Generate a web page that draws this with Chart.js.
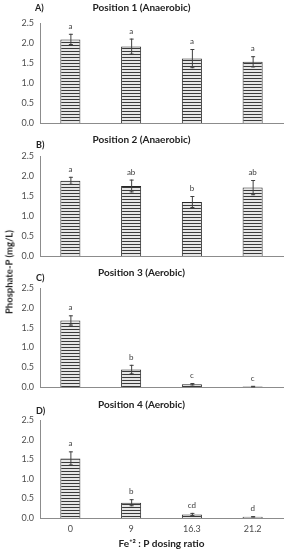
<!DOCTYPE html>
<html>
<head>
<meta charset="utf-8">
<script src="https://cdn.jsdelivr.net/npm/chart.js@4"></script>
<style>
  html, body { margin: 0; padding: 0; background: #fff; }
  #wrap { position: relative; width: 286px; height: 550px; overflow: hidden; font-family: Lato, 'Open Sans', sans-serif; }
  .panel { position: absolute; left: 0; width: 286px; }
  .tag { position: absolute; font-weight: bold; font-size: 9px; color: #222; }
  #ytitle { position: absolute; left: 9px; top: 272px; transform: translate(-50%, -50%) rotate(-90deg);
            white-space: nowrap; font-weight: bold; font-size: 9.5px; color: #222; }
</style>
</head>
<body>
<div id="wrap">
  <div class="panel" style="top:0;height:135px"><canvas id="c1"></canvas></div>
  <div class="panel" style="top:130px;height:138px"><canvas id="c2"></canvas></div>
  <div class="panel" style="top:260px;height:139px"><canvas id="c3"></canvas></div>
  <div class="panel" style="top:390px;height:160px"><canvas id="c4"></canvas></div>
  <div class="tag" style="left:35px;top:2px">A)</div>
  <div class="tag" style="left:36px;top:139px">B)</div>
  <div class="tag" style="left:36px;top:272px">C)</div>
  <div class="tag" style="left:36px;top:405px">D)</div>
  <div id="ytitle">Phosphate-P (mg/L)</div>
</div>
<script>
'use strict';

// ── Datos ──────────────────────────────────────────────────────────────
const doses = ['0', '9', '16.3', '21.2'];

const pos1Mean = [2.09, 1.91, 1.61, 1.53];
const pos1Err  = [0.14, 0.20, 0.24, 0.14];
const pos1Sig  = ['a', 'a', 'a', 'a'];

const pos2Mean = [1.88, 1.75, 1.35, 1.71];
const pos2Err  = [0.10, 0.16, 0.15, 0.19];
const pos2Sig  = ['a', 'ab', 'b', 'ab'];

const pos3Mean = [1.68, 0.44, 0.07, 0.01];
const pos3Err  = [0.13, 0.12, 0.03, 0.005];
const pos3Sig  = ['a', 'b', 'c', 'c'];

const pos4Mean = [1.52, 0.39, 0.09, 0.03];
const pos4Err  = [0.18, 0.09, 0.04, 0.01];
const pos4Sig  = ['a', 'b', 'cd', 'd'];

const yTicks = [0, 0.5, 1.0, 1.5, 2.0, 2.5];

// ── Estilo ─────────────────────────────────────────────────────────────
const FONT = "Lato, 'Open Sans', sans-serif";
const C = { tick: '#4d4d4d', axis: '#8c8c8c', dark: '#262626', err: '#404040' };

// patrón de rayas horizontales
function stripePattern() {
  const p = document.createElement('canvas');
  p.width = 4; p.height = 3;
  const g = p.getContext('2d');
  g.fillStyle = '#e6e6e6'; g.fillRect(0, 0, 4, 3);
  g.fillStyle = '#3a3a3a'; g.fillRect(0, 0, 4, 1);
  return document.getElementById('c1').getContext('2d').createPattern(p, 'repeat');
}
const STRIPES = stripePattern();

// barras de error + letras de significancia
const errorBars = {
  id: 'errorBars',
  afterDatasetsDraw(chart, args, opts) {
    const { ctx } = chart;
    const y = chart.scales.y;
    const meta = chart.getDatasetMeta(0);
    ctx.save();
    meta.data.forEach((bar, i) => {
      const m = opts.mean[i], e = opts.err[i];
      const yt = y.getPixelForValue(m + e);
      const yb = y.getPixelForValue(Math.max(0, m - e));
      ctx.strokeStyle = C.err;
      ctx.lineWidth = 1;
      ctx.beginPath();
      ctx.moveTo(bar.x + 0.5, yt); ctx.lineTo(bar.x + 0.5, yb);
      ctx.moveTo(bar.x - 1.5, yt + 0.5); ctx.lineTo(bar.x + 2.5, yt + 0.5);
      ctx.moveTo(bar.x - 1.5, yb - 0.5); ctx.lineTo(bar.x + 2.5, yb - 0.5);
      ctx.stroke();
      ctx.fillStyle = C.err;
      ctx.font = '8px ' + FONT;
      ctx.textAlign = 'center';
      ctx.textBaseline = 'alphabetic';
      ctx.fillText(opts.sig[i], bar.x, yt - 5);
    });
    ctx.restore();
  },
};

function makePanel(id, title, mean, err, sig, lay) {
  return new Chart(document.getElementById(id), {
    type: 'bar',
    data: {
      labels: doses,
      datasets: [{
        data: mean,
        backgroundColor: STRIPES,
        borderColor: C.dark,
        borderWidth: 1,
        barPercentage: 0.33,
        categoryPercentage: 1,
      }],
    },
    plugins: [errorBars],
    options: {
      responsive: true,
      maintainAspectRatio: false,
      animation: false,
      layout: { padding: { left: 0, right: 3, top: 0, bottom: 0 } },
      plugins: {
        legend: { display: false },
        tooltip: { enabled: false },
        title: {
          display: true,
          text: title,
          color: '#222',
          font: { family: FONT, size: 10, weight: 'bold', lineHeight: 1.2 },
          padding: { top: lay.tTop, bottom: lay.tBot },
        },
        errorBars: { mean, err, sig },
      },
      scales: {
        x: {
          grid: { display: false, drawTicks: false },
          border: { display: true, color: C.axis, width: 1 },
          ticks: { display: lay.xLabels, color: C.tick, padding: 6, font: { family: FONT, size: 9 } },
          title: {
            display: lay.xLabels,
            text: 'Fe⁺² : P dosing ratio',
            color: '#222',
            padding: { top: 0, bottom: 0 },
            font: { family: FONT, size: 10, weight: 'bold' },
          },
          afterFit: s => { s.height = lay.xH; },
        },
        y: {
          min: 0, max: 2.5,
          afterBuildTicks: s => { s.ticks = yTicks.map(v => ({ value: v })); },
          grid: { display: false, drawTicks: false },
          border: { display: true, color: C.axis, width: 1 },
          ticks: { color: C.tick, padding: 6, font: { family: FONT, size: 9 }, callback: v => v.toFixed(1) },
          afterFit: s => { s.width = 40; },
        },
      },
    },
  });
}

makePanel('c1', 'Position 1 (Anaerobic)', pos1Mean, pos1Err, pos1Sig, { tTop: 2, tBot: 9,  xH: 12, xLabels: false });
makePanel('c2', 'Position 2 (Anaerobic)', pos2Mean, pos2Err, pos2Sig, { tTop: 4, tBot: 10, xH: 12, xLabels: false });
makePanel('c3', 'Position 3 (Aerobic)',   pos3Mean, pos3Err, pos3Sig, { tTop: 7, tBot: 9,  xH: 12, xLabels: false });
makePanel('c4', 'Position 4 (Aerobic)',   pos4Mean, pos4Err, pos4Sig, { tTop: 9, tBot: 9,  xH: 32, xLabels: true });
</script>
</body>
</html>
